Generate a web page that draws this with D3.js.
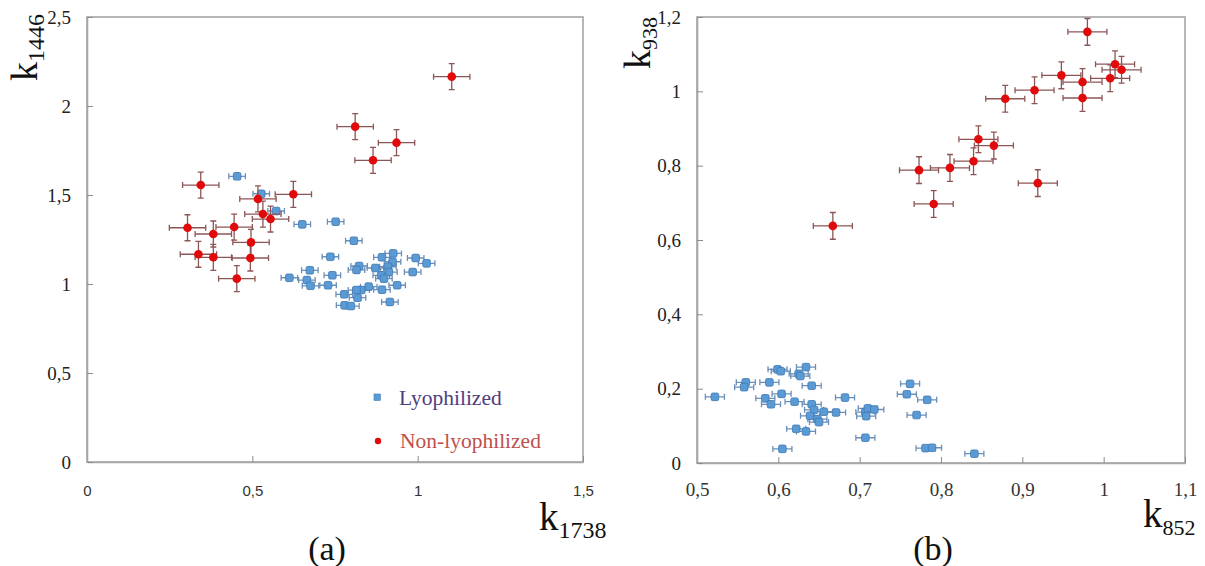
<!DOCTYPE html>
<html>
<head>
<meta charset="utf-8">
<script src="https://cdn.jsdelivr.net/npm/d3@7"></script>
<style>
  body { margin: 0; background: #fff; }
  svg { display: block; }
  .serif { font-family: "Liberation Serif", "Times New Roman", serif; }
  .sans { font-family: "Liberation Sans", Arial, sans-serif; }
</style>
</head>
<body>
<div id="chart"></div>
<script>
// ---- panel (a): k1738 (x) vs k1446 (y)
const lyoA = [
  [0.454, 1.605], [0.527, 1.507], [0.572, 1.41], [0.651, 1.335], [0.752, 1.35],
  [0.736, 1.153], [0.612, 1.035], [0.674, 1.077], [0.665, 1.022], [0.676, 0.99],
  [0.729, 0.993], [0.742, 1.049], [0.807, 1.243], [0.823, 1.101], [0.815, 1.079],
  [0.872, 1.09], [0.892, 1.15], [0.926, 1.172], [0.924, 1.125], [0.91, 1.097],
  [0.913, 1.067], [0.89, 1.049], [0.898, 1.03], [0.994, 1.146], [1.027, 1.116],
  [0.985, 1.067], [0.938, 0.993], [0.892, 0.968], [0.852, 0.985], [0.829, 0.966],
  [0.815, 0.966], [0.818, 0.923], [0.778, 0.942], [0.779, 0.88], [0.798, 0.876],
  [0.916, 0.899]
]
const nonA = [
  [0.344, 1.556], [0.517, 1.478], [0.624, 1.504], [0.532, 1.393], [0.555, 1.365],
  [0.304, 1.316], [0.382, 1.281], [0.445, 1.32], [0.496, 1.234], [0.337, 1.167],
  [0.382, 1.15], [0.494, 1.146], [0.453, 1.03], [1.103, 2.165], [0.811, 1.884],
  [0.936, 1.794], [0.865, 1.695]
]
// half widths of the error bars [x, y]
const errLyoA = [0.025, 0.016]
const errNonA = [0.055, 0.073]
const xTicksA = [0, 0.5, 1, 1.5]
const yTicksA = [0, 0.5, 1, 1.5, 2, 2.5]

// ---- panel (b): k852 (x) vs k938 (y)
const lyoB = [
  [0.522, 0.178], [0.56, 0.217], [0.558, 0.204], [0.589, 0.217], [0.584, 0.174],
  [0.591, 0.158], [0.599, 0.252], [0.603, 0.247], [0.604, 0.186], [0.605, 0.038],
  [0.62, 0.165], [0.625, 0.24], [0.627, 0.234], [0.634, 0.258], [0.641, 0.208],
  [0.641, 0.158], [0.644, 0.143], [0.639, 0.127], [0.648, 0.118], [0.65, 0.11],
  [0.622, 0.092], [0.634, 0.085], [0.656, 0.138], [0.671, 0.136], [0.682, 0.176],
  [0.707, 0.137], [0.71, 0.147], [0.708, 0.126], [0.718, 0.144], [0.707, 0.068],
  [0.762, 0.213], [0.758, 0.185], [0.783, 0.17], [0.77, 0.129], [0.781, 0.04],
  [0.789, 0.041], [0.841, 0.025]
]
const nonB = [
  [0.98, 1.16], [1.014, 1.073], [1.008, 1.035], [1.022, 1.058], [0.948, 1.043],
  [0.974, 1.025], [0.974, 0.982], [0.915, 1.003], [0.879, 0.98], [0.846, 0.871],
  [0.865, 0.854], [0.84, 0.812], [0.811, 0.794], [0.773, 0.788], [0.919, 0.753],
  [0.791, 0.697], [0.667, 0.638]
]
const errLyoB = [0.0117, 0.005]
const errNonB = [0.024, 0.036]
const xTicksB = [0.5, 0.6, 0.7, 0.8, 0.9, 1, 1.1]
const yTicksB = [0, 0.2, 0.4, 0.6, 0.8, 1, 1.2]

const legendLabels = ['Lyophilized', 'Non-lyophilized']

const width = 1205
const height = 566

const blue = '#5b9bd5'
const blueEdge = '#3d78b3'
const blueBar = '#6b8fb8'
const red = '#e00a0a'
const redBar = '#8d5656'

const fmt = d => String(+d.toFixed(2)).replace('.', ',')

const svg = d3
  .select('#chart')
  .append('svg')
  .attr('width', width)
  .attr('height', height)

function drawPanel(p) {
  const x = d3.scaleLinear().domain(p.xDomain).range([p.left, p.right])
  const y = d3.scaleLinear().domain(p.yDomain).range([p.bottom, p.top])
  const g = svg.append('g')

  // frame
  g.append('rect')
    .attr('x', p.left)
    .attr('y', p.top)
    .attr('width', p.right - p.left)
    .attr('height', p.bottom - p.top)
    .attr('fill', 'none')
    .attr('stroke', '#a6a6a6')
    .attr('stroke-width', 1.6)

  const xAxis = g
    .append('g')
    .attr('transform', `translate(0,${p.bottom})`)
    .call(
      d3.axisBottom(x)
        .tickValues(p.xTicks)
        .tickSizeInner(-6)
        .tickSizeOuter(0)
        .tickPadding(p.xPad)
        .tickFormat(fmt)
    )
    .attr('font-family', null)
  xAxis.select('.domain').attr('stroke', '#a6a6a6').attr('stroke-width', 1.6)
  xAxis.selectAll('line').attr('stroke', '#8c8c8c')
  xAxis.selectAll('text')
    .attr('class', p.xFont)
    .style('font-size', p.xFontSize + 'px')
    .attr('fill', '#333')

  const yAxis = g
    .append('g')
    .attr('transform', `translate(${p.left},0)`)
    .call(
      d3.axisLeft(y)
        .tickValues(p.yTicks)
        .tickSizeInner(-6)
        .tickSizeOuter(0)
        .tickPadding(16)
        .tickFormat(fmt)
    )
    .attr('font-family', null)
  yAxis.select('.domain').attr('stroke', '#a6a6a6').attr('stroke-width', 1.6)
  yAxis.selectAll('line').attr('stroke', '#8c8c8c')
  yAxis.selectAll('text')
    .attr('class', 'serif')
    .style('font-size', '19px')
    .attr('fill', '#222')

  // error bars + markers, lyophilized first so the red series sits on top
  drawSeries(g, p.lyo, p.errLyo, x, y, blueBar, 'square')
  drawSeries(g, p.non, p.errNon, x, y, redBar, 'circle')

  // axis titles
  const xt = g.append('text')
    .attr('class', 'serif')
    .attr('x', p.xTitle[0])
    .attr('y', p.xTitle[1])
    .attr('fill', '#111')
  xt.append('tspan').text('k').style('font-size', '39px')
  xt.append('tspan').text(p.xSub).style('font-size', p.subSize + 'px').attr('dy', 8)

  const yt = g.append('text')
    .attr('class', 'serif')
    .attr('transform', `translate(${p.yTitle[0]},${p.yTitle[1]}) rotate(-90)`)
    .attr('fill', '#111')
  yt.append('tspan').text('k').style('font-size', '38px')
  yt.append('tspan').text(p.ySub).style('font-size', p.subSize + 'px').attr('dy', 7)

  g.append('text')
    .attr('class', 'serif')
    .attr('x', (p.left + p.right) / 2 - 8)
    .attr('y', 560)
    .attr('text-anchor', 'middle')
    .style('font-size', '34px')
    .attr('fill', '#111')
    .text(p.caption)

  return g
}

function drawSeries(g, data, err, x, y, barColor, shape) {
  const cap = 3
  const bars = g.append('g')
    .attr('stroke', barColor)
    .attr('stroke-width', 1.3)
    .attr('fill', 'none')
  data.forEach(d => {
    const cx = x(d[0])
    const cy = y(d[1])
    const x0 = x(d[0] - err[0])
    const x1 = x(d[0] + err[0])
    const y0 = y(d[1] - err[1])
    const y1 = y(d[1] + err[1])
    bars.append('path').attr('d',
      `M${x0},${cy}H${x1}M${x0},${cy - cap}V${cy + cap}M${x1},${cy - cap}V${cy + cap}` +
      `M${cx},${y0}V${y1}M${cx - cap},${y0}H${cx + cap}M${cx - cap},${y1}H${cx + cap}`)
  })

  if (shape === 'square') {
    g.append('g')
      .selectAll('rect')
      .data(data)
      .join('rect')
      .attr('x', d => x(d[0]) - 3.8)
      .attr('y', d => y(d[1]) - 3.8)
      .attr('width', 7.6)
      .attr('height', 7.6)
      .attr('rx', 1.6)
      .attr('fill', blue)
      .attr('stroke', blueEdge)
      .attr('stroke-width', 0.8)
  } else {
    g.append('g')
      .selectAll('circle')
      .data(data)
      .join('circle')
      .attr('cx', d => x(d[0]))
      .attr('cy', d => y(d[1]))
      .attr('r', 4.3)
      .attr('fill', red)
  }
}

drawPanel({
  xDomain: [0, 1.5], yDomain: [0, 2.5],
  left: 87, right: 583, top: 17, bottom: 462,
  xTicks: xTicksA, yTicks: yTicksA,
  xFont: 'sans', xFontSize: 15, xPad: 23,
  lyo: lyoA, non: nonA, errLyo: errLyoA, errNon: errNonA,
  xTitle: [539, 530], xSub: '1738',
  yTitle: [37, 81], ySub: '1446',
  subSize: 24, caption: '(a)'
})

// legend for panel (a)
const legend = svg.append('g').attr('class', 'serif').style('font-size', '21.5px')
legend.append('rect')
  .attr('x', 374).attr('y', 394).attr('width', 6.4).attr('height', 6.4)
  .attr('fill', blue).attr('stroke', blueEdge).attr('stroke-width', 0.6)
legend.append('text').attr('x', 399).attr('y', 405).attr('fill', '#4f3d80').text(legendLabels[0])
legend.append('circle').attr('cx', 378).attr('cy', 441).attr('r', 3.2).attr('fill', red)
legend.append('text').attr('x', 400).attr('y', 448).attr('fill', '#c0504d').text(legendLabels[1])

drawPanel({
  xDomain: [0.5, 1.1], yDomain: [0, 1.2],
  left: 697, right: 1185, top: 17, bottom: 463,
  xTicks: xTicksB, yTicks: yTicksB,
  xFont: 'serif', xFontSize: 19, xPad: 20,
  lyo: lyoB, non: nonB, errLyo: errLyoB, errNon: errNonB,
  xTitle: [1143, 527], xSub: '852',
  yTitle: [650, 69], ySub: '938',
  subSize: 22, caption: '(b)'
})
</script>
</body>
</html>
